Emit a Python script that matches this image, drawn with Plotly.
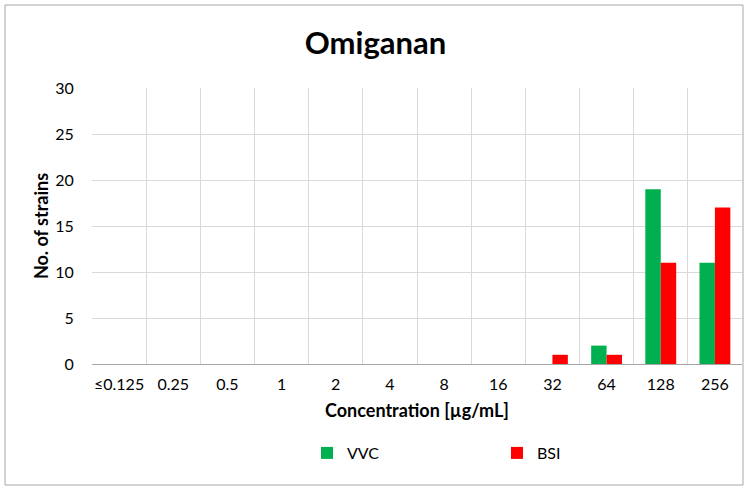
import plotly.graph_objects as go

categories = ["≤0.125", "0.25", "0.5", "1", "2", "4", "8", "16", "32", "64", "128", "256"]
vvc = [0, 0, 0, 0, 0, 0, 0, 0, 0, 2, 19, 11]
bsi = [0, 0, 0, 0, 0, 0, 0, 0, 1, 1, 11, 17]

W, H = 751, 490
L, R, T, B = 92, 9, 88, 126
pw, ph = W - L - R, H - T - B

font = "Lato"
fig = go.Figure()
fig.add_trace(go.Bar(x=categories, y=vvc, name="VVC", marker_color="#00b050", marker_line_width=0))
fig.add_trace(go.Bar(x=categories, y=bsi, name="BSI", marker_color="#ff0000", marker_line_width=0))

fig.update_layout(
    width=W, height=H,
    margin=dict(l=L, r=R, t=T, b=B),
    paper_bgcolor="white", plot_bgcolor="white",
    font=dict(family=font, size=16, color="#000000"),
    title=dict(text="<b>Omiganan</b>", x=0.5, xanchor="center", y=1 - 43 / H, yanchor="middle",
               font=dict(family=font, size=31, color="#000000")),
    barmode="group", bargap=0.43, bargroupgap=0,
    legend=dict(orientation="h", x=(307 - L) / pw, xanchor="left", y=-(453 - (T + ph)) / ph, yanchor="middle",
                entrywidth=145, font=dict(family=font, size=16), itemwidth=30),
    showlegend=True,
)
fig.update_xaxes(
    type="category", tickson="boundaries", showgrid=True, gridcolor="#d9d9d9", gridwidth=1,
    showline=True, linecolor="#a6a6a6", linewidth=1, ticks="", ticklabelstandoff=6,
    tickangle=0,
    title=dict(text="<b>Concentration [µg/mL]</b>", font=dict(family=font, size=18), standoff=12),
    tickfont=dict(family=font, size=16), range=[-0.5, 11.5],
)
fig.update_yaxes(
    range=[0, 30], dtick=5, showgrid=True, gridcolor="#d9d9d9", gridwidth=1,
    showline=False, zeroline=False, ticks="outside", ticklen=14, tickcolor="rgba(0,0,0,0)",
    title=dict(text="<b>No. of strains</b>", font=dict(family=font, size=18), standoff=1),
    tickfont=dict(family=font, size=16),
)
# outer chart border
fig.add_shape(type="rect", xref="paper", yref="paper",
              x0=(5 - L) / pw, x1=(743 - L) / pw, y0=-(485 - (T + ph)) / ph, y1=1 + (T - 5) / ph,
              line=dict(color="#a6a6a6", width=1), fillcolor="rgba(0,0,0,0)", layer="below")
fig.write_html("out.html", config={"displayModeBar": False},
               post_script="document.body.style.margin='0';document.body.style.padding='0';")
